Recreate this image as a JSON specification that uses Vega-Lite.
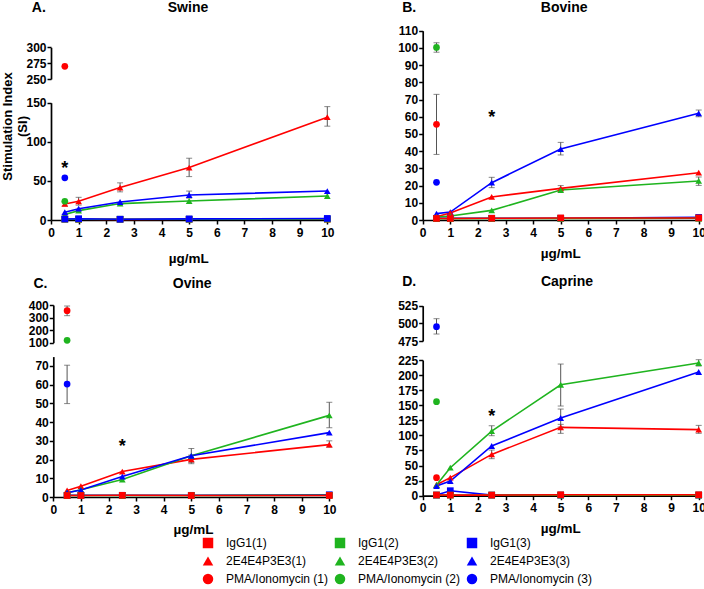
{
  "$schema": "https://vega.github.io/schema/vega-lite/v6.json",
  "width": 704,
  "height": 589,
  "padding": 0,
  "autosize": {"type": "none"},
  "background": "white",
  "config": {
    "view": {"stroke": null},
    "axis": {"grid": false, "labelFont": "Liberation Sans", "labelFontWeight": "bold", "labelFontSize": 12, "labelColor": "#000", "domainColor": "#000", "domainWidth": 1.7, "tickColor": "#000", "tickWidth": 1.5, "tickSize": 4, "labelPadding": 1, "labelFlush": false, "labelOverlap": false, "titleFont": "Liberation Sans", "titleFontWeight": "bold", "titleColor": "#000", "titleFontSize": 14},
    "axisX": {"labelPadding": 3},
    "legend": {"labelFont": "Liberation Sans", "labelFontSize": 12, "labelColor": "#000"},
    "tick": {"color": "#555", "orient": "horizontal", "size": 6, "thickness": 1},
    "rule": {"color": "#555", "strokeWidth": 1}
  },
  "datasets": {
    "pts": [
      {"p":"A","part":"low","s":"2E4E4P3E3(1)","x":0.5,"y":20.5,"lo":18,"hi":23},
      {"p":"A","part":"low","s":"2E4E4P3E3(1)","x":1,"y":23.9,"lo":19,"hi":29},
      {"p":"A","part":"low","s":"2E4E4P3E3(1)","x":2.5,"y":41.5,"lo":36,"hi":47.5},
      {"p":"A","part":"low","s":"2E4E4P3E3(1)","x":5,"y":67,"lo":55.5,"hi":79},
      {"p":"A","part":"low","s":"2E4E4P3E3(1)","x":10,"y":131.5,"lo":120,"hi":145},
      {"p":"A","part":"low","s":"2E4E4P3E3(2)","x":0.5,"y":7},
      {"p":"A","part":"low","s":"2E4E4P3E3(2)","x":1,"y":12},
      {"p":"A","part":"low","s":"2E4E4P3E3(2)","x":2.5,"y":21},
      {"p":"A","part":"low","s":"2E4E4P3E3(2)","x":5,"y":24.3},
      {"p":"A","part":"low","s":"2E4E4P3E3(2)","x":10,"y":30.7},
      {"p":"A","part":"low","s":"2E4E4P3E3(3)","x":0.5,"y":10},
      {"p":"A","part":"low","s":"2E4E4P3E3(3)","x":1,"y":14.5},
      {"p":"A","part":"low","s":"2E4E4P3E3(3)","x":2.5,"y":23},
      {"p":"A","part":"low","s":"2E4E4P3E3(3)","x":5,"y":32,"lo":28,"hi":37},
      {"p":"A","part":"low","s":"2E4E4P3E3(3)","x":10,"y":37},
      {"p":"A","part":"low","s":"IgG1(1)","x":0.5,"y":1},
      {"p":"A","part":"low","s":"IgG1(1)","x":1,"y":0.9},
      {"p":"A","part":"low","s":"IgG1(1)","x":2.5,"y":0.8},
      {"p":"A","part":"low","s":"IgG1(1)","x":5,"y":0.9},
      {"p":"A","part":"low","s":"IgG1(1)","x":10,"y":1},
      {"p":"A","part":"low","s":"IgG1(2)","x":0.5,"y":1.1},
      {"p":"A","part":"low","s":"IgG1(2)","x":1,"y":1},
      {"p":"A","part":"low","s":"IgG1(2)","x":2.5,"y":1},
      {"p":"A","part":"low","s":"IgG1(2)","x":5,"y":1},
      {"p":"A","part":"low","s":"IgG1(2)","x":10,"y":1.2},
      {"p":"A","part":"low","s":"IgG1(3)","x":0.5,"y":1.3},
      {"p":"A","part":"low","s":"IgG1(3)","x":1,"y":1.6},
      {"p":"A","part":"low","s":"IgG1(3)","x":2.5,"y":1},
      {"p":"A","part":"low","s":"IgG1(3)","x":5,"y":1.4},
      {"p":"A","part":"low","s":"IgG1(3)","x":10,"y":2},
      {"p":"A","part":"low","s":"PMA/Ionomycin (2)","x":0.5,"y":24},
      {"p":"A","part":"low","s":"PMA/Ionomycin (3)","x":0.5,"y":54},
      {"p":"A","part":"up","s":"PMA/Ionomycin (1)","x":0.5,"y":270},

      {"p":"B","part":"low","s":"2E4E4P3E3(3)","x":0.5,"y":3.7},
      {"p":"B","part":"low","s":"2E4E4P3E3(3)","x":1,"y":4.6},
      {"p":"B","part":"low","s":"2E4E4P3E3(3)","x":2.5,"y":21.7,"lo":18.8,"hi":24.8},
      {"p":"B","part":"low","s":"2E4E4P3E3(3)","x":5,"y":41.2,"lo":37.8,"hi":45.1},
      {"p":"B","part":"low","s":"2E4E4P3E3(3)","x":10,"y":62,"lo":60,"hi":63.9},
      {"p":"B","part":"low","s":"2E4E4P3E3(1)","x":0.5,"y":1.9},
      {"p":"B","part":"low","s":"2E4E4P3E3(1)","x":1,"y":4.1},
      {"p":"B","part":"low","s":"2E4E4P3E3(1)","x":2.5,"y":13.4},
      {"p":"B","part":"low","s":"2E4E4P3E3(1)","x":5,"y":18.4,"lo":17,"hi":20},
      {"p":"B","part":"low","s":"2E4E4P3E3(1)","x":10,"y":27.5},
      {"p":"B","part":"low","s":"2E4E4P3E3(2)","x":0.5,"y":1.7},
      {"p":"B","part":"low","s":"2E4E4P3E3(2)","x":1,"y":2.3},
      {"p":"B","part":"low","s":"2E4E4P3E3(2)","x":2.5,"y":5.6},
      {"p":"B","part":"low","s":"2E4E4P3E3(2)","x":5,"y":17.4},
      {"p":"B","part":"low","s":"2E4E4P3E3(2)","x":10,"y":22.7,"lo":20.1,"hi":25},
      {"p":"B","part":"low","s":"IgG1(3)","x":0.5,"y":1},
      {"p":"B","part":"low","s":"IgG1(3)","x":1,"y":1},
      {"p":"B","part":"low","s":"IgG1(3)","x":2.5,"y":1},
      {"p":"B","part":"low","s":"IgG1(3)","x":5,"y":1},
      {"p":"B","part":"low","s":"IgG1(3)","x":10,"y":1.5},
      {"p":"B","part":"low","s":"IgG1(2)","x":0.5,"y":0.8},
      {"p":"B","part":"low","s":"IgG1(2)","x":1,"y":0.8},
      {"p":"B","part":"low","s":"IgG1(2)","x":2.5,"y":0.9},
      {"p":"B","part":"low","s":"IgG1(2)","x":5,"y":0.9},
      {"p":"B","part":"low","s":"IgG1(2)","x":10,"y":1},
      {"p":"B","part":"low","s":"IgG1(1)","x":0.5,"y":0.9},
      {"p":"B","part":"low","s":"IgG1(1)","x":1,"y":0.9},
      {"p":"B","part":"low","s":"IgG1(1)","x":2.5,"y":1},
      {"p":"B","part":"low","s":"IgG1(1)","x":5,"y":1.2},
      {"p":"B","part":"low","s":"IgG1(1)","x":10,"y":1.2},
      {"p":"B","part":"low","s":"PMA/Ionomycin (1)","x":0.5,"y":55.6,"lo":38.1,"hi":73},
      {"p":"B","part":"low","s":"PMA/Ionomycin (2)","x":0.5,"y":100.3,"lo":97.5,"hi":103},
      {"p":"B","part":"low","s":"PMA/Ionomycin (3)","x":0.5,"y":21.9},

      {"p":"C","part":"low","s":"2E4E4P3E3(1)","x":0.5,"y":3.5},
      {"p":"C","part":"low","s":"2E4E4P3E3(1)","x":1,"y":5.8},
      {"p":"C","part":"low","s":"2E4E4P3E3(1)","x":2.5,"y":13.6},
      {"p":"C","part":"low","s":"2E4E4P3E3(1)","x":5,"y":20.1,"lo":17.8,"hi":22.4},
      {"p":"C","part":"low","s":"2E4E4P3E3(1)","x":10,"y":28,"lo":26.6,"hi":30},
      {"p":"C","part":"low","s":"2E4E4P3E3(2)","x":0.5,"y":2.3},
      {"p":"C","part":"low","s":"2E4E4P3E3(2)","x":1,"y":3.9},
      {"p":"C","part":"low","s":"2E4E4P3E3(2)","x":2.5,"y":9.3},
      {"p":"C","part":"low","s":"2E4E4P3E3(2)","x":5,"y":22,"lo":18.5,"hi":25.9},
      {"p":"C","part":"low","s":"2E4E4P3E3(2)","x":10,"y":43.6,"lo":37,"hi":50.6},
      {"p":"C","part":"low","s":"2E4E4P3E3(3)","x":0.5,"y":2.3},
      {"p":"C","part":"low","s":"2E4E4P3E3(3)","x":1,"y":3.7},
      {"p":"C","part":"low","s":"2E4E4P3E3(3)","x":2.5,"y":10.9},
      {"p":"C","part":"low","s":"2E4E4P3E3(3)","x":5,"y":22},
      {"p":"C","part":"low","s":"2E4E4P3E3(3)","x":10,"y":34.4},
      {"p":"C","part":"low","s":"IgG1(3)","x":0.5,"y":0.9},
      {"p":"C","part":"low","s":"IgG1(3)","x":1,"y":0.9},
      {"p":"C","part":"low","s":"IgG1(3)","x":2.5,"y":0.9},
      {"p":"C","part":"low","s":"IgG1(3)","x":5,"y":0.9},
      {"p":"C","part":"low","s":"IgG1(3)","x":10,"y":1.2},
      {"p":"C","part":"low","s":"IgG1(2)","x":0.5,"y":0.8},
      {"p":"C","part":"low","s":"IgG1(2)","x":1,"y":0.8},
      {"p":"C","part":"low","s":"IgG1(2)","x":2.5,"y":0.8},
      {"p":"C","part":"low","s":"IgG1(2)","x":5,"y":0.8},
      {"p":"C","part":"low","s":"IgG1(2)","x":10,"y":0.9},
      {"p":"C","part":"low","s":"IgG1(1)","x":0.5,"y":0.8},
      {"p":"C","part":"low","s":"IgG1(1)","x":1,"y":0.8},
      {"p":"C","part":"low","s":"IgG1(1)","x":2.5,"y":0.9},
      {"p":"C","part":"low","s":"IgG1(1)","x":5,"y":0.8},
      {"p":"C","part":"low","s":"IgG1(1)","x":10,"y":0.8},
      {"p":"C","part":"low","s":"PMA/Ionomycin (3)","x":0.5,"y":60.3,"lo":49.9,"hi":70.4},
      {"p":"C","part":"up","s":"PMA/Ionomycin (1)","x":0.5,"y":355,"lo":315,"hi":392},
      {"p":"C","part":"up","s":"PMA/Ionomycin (2)","x":0.5,"y":119},

      {"p":"D","part":"low","s":"2E4E4P3E3(1)","x":0.5,"y":18.2},
      {"p":"D","part":"low","s":"2E4E4P3E3(1)","x":1,"y":29.9},
      {"p":"D","part":"low","s":"2E4E4P3E3(1)","x":2.5,"y":68.5,"lo":61.4,"hi":75.7},
      {"p":"D","part":"low","s":"2E4E4P3E3(1)","x":5,"y":113.3,"lo":103.4,"hi":118.3},
      {"p":"D","part":"low","s":"2E4E4P3E3(1)","x":10,"y":109.5,"lo":103.4,"hi":116.6},
      {"p":"D","part":"low","s":"2E4E4P3E3(2)","x":0.5,"y":17.7},
      {"p":"D","part":"low","s":"2E4E4P3E3(2)","x":1,"y":46.4},
      {"p":"D","part":"low","s":"2E4E4P3E3(2)","x":2.5,"y":107.2,"lo":99.5,"hi":116},
      {"p":"D","part":"low","s":"2E4E4P3E3(2)","x":5,"y":184,"lo":148.7,"hi":218.3},
      {"p":"D","part":"low","s":"2E4E4P3E3(2)","x":10,"y":220,"lo":215,"hi":225.5},
      {"p":"D","part":"low","s":"2E4E4P3E3(3)","x":0.5,"y":16},
      {"p":"D","part":"low","s":"2E4E4P3E3(3)","x":1,"y":24.3},
      {"p":"D","part":"low","s":"2E4E4P3E3(3)","x":2.5,"y":82.4},
      {"p":"D","part":"low","s":"2E4E4P3E3(3)","x":5,"y":128.8,"lo":114,"hi":143.7},
      {"p":"D","part":"low","s":"2E4E4P3E3(3)","x":10,"y":205.1},
      {"p":"D","part":"low","s":"IgG1(3)","x":0.5,"y":1},
      {"p":"D","part":"low","s":"IgG1(3)","x":1,"y":8.3},
      {"p":"D","part":"low","s":"IgG1(3)","x":2.5,"y":1},
      {"p":"D","part":"low","s":"IgG1(3)","x":5,"y":1},
      {"p":"D","part":"low","s":"IgG1(3)","x":10,"y":1},
      {"p":"D","part":"low","s":"IgG1(2)","x":0.5,"y":1},
      {"p":"D","part":"low","s":"IgG1(2)","x":1,"y":1},
      {"p":"D","part":"low","s":"IgG1(2)","x":2.5,"y":1},
      {"p":"D","part":"low","s":"IgG1(2)","x":5,"y":1},
      {"p":"D","part":"low","s":"IgG1(2)","x":10,"y":1},
      {"p":"D","part":"low","s":"IgG1(1)","x":0.5,"y":1.2},
      {"p":"D","part":"low","s":"IgG1(1)","x":1,"y":1},
      {"p":"D","part":"low","s":"IgG1(1)","x":2.5,"y":1},
      {"p":"D","part":"low","s":"IgG1(1)","x":5,"y":1.5},
      {"p":"D","part":"low","s":"IgG1(1)","x":10,"y":1.5},
      {"p":"D","part":"low","s":"PMA/Ionomycin (1)","x":0.5,"y":29.9},
      {"p":"D","part":"low","s":"PMA/Ionomycin (2)","x":0.5,"y":155.9},
      {"p":"D","part":"up","s":"PMA/Ionomycin (3)","x":0.5,"y":495.3,"lo":484.9,"hi":506.6}
    ],
    "notes": [
      {"p":"A","x":0.5,"y":72,"t":"*"},
      {"p":"B","x":2.5,"y":62,"t":"*"},
      {"p":"C","x":2.5,"y":29.4,"t":"*"},
      {"p":"D","x":2.5,"y":138.7,"t":"*"}
    ]
  },
  "resolve": {"scale": {"x": "independent", "y": "independent"}, "axis": {"x": "independent", "y": "independent"}},
  "layer": [
    {
      "data": {"name": "pts"},
      "transform": [{"filter": "datum.p == 'A' && datum.part == 'low'"}],
      "encoding": {
        "x": {"field": "x", "type": "quantitative", "scale": {"domain": [0, 10], "range": [51, 327.3], "nice": false, "zero": false}, "axis": {"orient": "bottom", "offset": -369, "values": [0,1,2,3,4,5,6,7,8,9,10], "title": "µg/mL", "titleX": 188.3, "titleY": 38, "titleAlign": "center", "titleBaseline": "middle", "titleFontSize": 13.5}},
        "y": {"field": "y", "type": "quantitative", "scale": {"domain": [0, 150], "range": [220, 102.7], "nice": false, "zero": false}, "axis": {"orient": "left", "offset": -51, "values": [0, 50, 100, 150], "title": ["Stimulation Index", "(SI)"], "titleX": -44, "titleY": 126, "titleAngle": 270, "titleAlign": "center", "titleBaseline": "middle", "titleFontSize": 13, "titleLineHeight": 15}}
      },
      "layer": [
        {"transform": [{"filter": "indexof(datum.s, 'PMA') < 0"}], "mark": {"type": "line", "strokeWidth": 1.6},
         "encoding": {"stroke": {"field": "s", "type": "nominal", "legend": null,
           "scale": {"domain": ["IgG1(1)", "IgG1(2)", "IgG1(3)", "2E4E4P3E3(1)", "2E4E4P3E3(2)", "2E4E4P3E3(3)"], "range": ["#ff0000", "#1fb41f", "#0000ff", "#ff0000", "#1fb41f", "#0000ff"]}}}},
        {"transform": [{"filter": {"field": "lo", "valid": true}}], "layer": [
          {"mark": "rule", "encoding": {"y": {"field": "lo", "type": "quantitative"}, "y2": {"field": "hi"}}},
          {"mark": "tick", "encoding": {"y": {"field": "lo", "type": "quantitative"}}},
          {"mark": "tick", "encoding": {"y": {"field": "hi", "type": "quantitative"}}}
        ]},
        {"mark": {"type": "point", "filled": true, "size": 45, "opacity": 1},
         "encoding": {
           "color": {"field": "s", "type": "nominal", "legend": {"title": null, "orient": "none", "legendX": 202, "legendY": 537, "columns": 3, "direction": "horizontal", "columnPadding": 5, "rowPadding": 6, "symbolSize": 110, "labelOffset": 12},
             "scale": {"domain": ["IgG1(1)", "IgG1(2)", "IgG1(3)", "2E4E4P3E3(1)", "2E4E4P3E3(2)", "2E4E4P3E3(3)", "PMA/Ionomycin (1)", "PMA/Ionomycin (2)", "PMA/Ionomycin (3)"], "range": ["#ff0000", "#1fb41f", "#0000ff", "#ff0000", "#1fb41f", "#0000ff", "#ff0000", "#1fb41f", "#0000ff"]}},
           "shape": {"field": "s", "type": "nominal", "legend": {"title": null, "orient": "none", "legendX": 202, "legendY": 537, "columns": 3, "direction": "horizontal", "columnPadding": 5, "rowPadding": 6, "symbolSize": 110, "labelOffset": 12},
             "scale": {"domain": ["IgG1(1)", "IgG1(2)", "IgG1(3)", "2E4E4P3E3(1)", "2E4E4P3E3(2)", "2E4E4P3E3(3)", "PMA/Ionomycin (1)", "PMA/Ionomycin (2)", "PMA/Ionomycin (3)"], "range": ["square", "square", "square", "triangle-up", "triangle-up", "triangle-up", "circle", "circle", "circle"]}}
         }}
      ]
    },
    {
      "data": {"name": "pts"},
      "transform": [{"filter": "datum.p == 'A' && datum.part == 'up'"}],
      "encoding": {
        "x": {"field": "x", "type": "quantitative", "scale": {"domain": [0, 10], "range": [51, 327.3], "nice": false, "zero": false}, "axis": null},
        "y": {"field": "y", "type": "quantitative", "scale": {"domain": [250, 300], "range": [79, 47.3], "nice": false, "zero": false}, "axis": {"orient": "left", "offset": -51, "values": [250, 275, 300], "title": null}}
      },
      "layer": [
        {"mark": {"type": "point", "filled": true, "size": 45, "opacity": 1},
         "encoding": {"color": {"field": "s", "type": "nominal", "legend": {"title": null}}, "shape": {"field": "s", "type": "nominal", "legend": {"title": null}}}}
      ]
    },
    {
      "data": {"name": "notes"},
      "transform": [{"filter": "datum.p == 'A'"}],
      "mark": {"type": "text", "font": "Liberation Sans", "fontSize": 18, "fontWeight": "bold", "baseline": "middle", "dy": 5},
      "encoding": {
        "x": {"field": "x", "type": "quantitative", "scale": {"domain": [0, 10], "range": [51, 327.3], "nice": false, "zero": false}, "axis": {"orient": "top", "offset": 0, "domain": false, "ticks": false, "labels": false, "title": "Swine", "titleX": 187.5, "titleY": 7, "titleAlign": "center", "titleBaseline": "middle"}},
        "y": {"field": "y", "type": "quantitative", "scale": {"domain": [0, 150], "range": [220, 102.7], "nice": false, "zero": false}, "axis": {"orient": "left", "offset": 0, "domain": false, "ticks": false, "labels": false, "title": "A.", "titleAngle": 0, "titleX": 38.3, "titleY": 7, "titleAlign": "center", "titleBaseline": "middle"}},
        "text": {"field": "t"}
      }
    },
    {
      "data": {"name": "pts"},
      "transform": [{"filter": "datum.p == 'B'"}],
      "encoding": {
        "x": {"field": "x", "type": "quantitative", "scale": {"domain": [0, 10], "range": [422.7, 698.7], "nice": false, "zero": false}, "axis": {"orient": "bottom", "offset": -369, "values": [0,1,2,3,4,5,6,7,8,9,10], "title": "µg/mL", "titleX": 560.3, "titleY": 33.3, "titleAlign": "center", "titleBaseline": "middle", "titleFontSize": 13.5}},
        "y": {"field": "y", "type": "quantitative", "scale": {"domain": [0, 110], "range": [220, 30.7], "nice": false, "zero": false}, "axis": {"orient": "left", "offset": -422.7, "values": [0,10,20,30,40,50,60,70,80,90,100,110], "title": null}}
      },
      "layer": [
        {"transform": [{"filter": "indexof(datum.s, 'PMA') < 0"}], "mark": {"type": "line", "strokeWidth": 1.6},
         "encoding": {"stroke": {"field": "s", "type": "nominal", "legend": null}}},
        {"transform": [{"filter": {"field": "lo", "valid": true}}], "layer": [
          {"mark": "rule", "encoding": {"y": {"field": "lo", "type": "quantitative"}, "y2": {"field": "hi"}}},
          {"mark": "tick", "encoding": {"y": {"field": "lo", "type": "quantitative"}}},
          {"mark": "tick", "encoding": {"y": {"field": "hi", "type": "quantitative"}}}
        ]},
        {"mark": {"type": "point", "filled": true, "size": 45, "opacity": 1},
         "encoding": {"color": {"field": "s", "type": "nominal", "legend": {"title": null}}, "shape": {"field": "s", "type": "nominal", "legend": {"title": null}}}}
      ]
    },
    {
      "data": {"name": "notes"},
      "transform": [{"filter": "datum.p == 'B'"}],
      "mark": {"type": "text", "font": "Liberation Sans", "fontSize": 18, "fontWeight": "bold", "baseline": "middle", "dy": 5},
      "encoding": {
        "x": {"field": "x", "type": "quantitative", "scale": {"domain": [0, 10], "range": [422.7, 698.7], "nice": false, "zero": false}, "axis": {"orient": "top", "offset": 0, "domain": false, "ticks": false, "labels": false, "title": "Bovine", "titleX": 563.7, "titleY": 7, "titleAlign": "center", "titleBaseline": "middle"}},
        "y": {"field": "y", "type": "quantitative", "scale": {"domain": [0, 110], "range": [220, 30.7], "nice": false, "zero": false}, "axis": {"orient": "left", "offset": 0, "domain": false, "ticks": false, "labels": false, "title": "B.", "titleAngle": 0, "titleX": 408.7, "titleY": 7, "titleAlign": "center", "titleBaseline": "middle"}},
        "text": {"field": "t"}
      }
    },
    {
      "data": {"name": "pts"},
      "transform": [{"filter": "datum.p == 'C' && datum.part == 'low'"}],
      "encoding": {
        "x": {"field": "x", "type": "quantitative", "scale": {"domain": [0, 10], "range": [53.3, 329.3], "nice": false, "zero": false}, "axis": {"orient": "bottom", "offset": -92, "values": [0,1,2,3,4,5,6,7,8,9,10], "title": "µg/mL", "titleX": 193, "titleY": 32.3, "titleAlign": "center", "titleBaseline": "middle", "titleFontSize": 13.5}},
        "y": {"field": "y", "type": "quantitative", "scale": {"domain": [0, 75], "range": [497, 356.6], "nice": false, "zero": false}, "axis": {"orient": "left", "offset": -53.3, "values": [0,10,20,30,40,50,60,70], "title": null}}
      },
      "layer": [
        {"transform": [{"filter": "indexof(datum.s, 'PMA') < 0"}], "mark": {"type": "line", "strokeWidth": 1.6},
         "encoding": {"stroke": {"field": "s", "type": "nominal", "legend": null}}},
        {"transform": [{"filter": {"field": "lo", "valid": true}}], "layer": [
          {"mark": "rule", "encoding": {"y": {"field": "lo", "type": "quantitative"}, "y2": {"field": "hi"}}},
          {"mark": "tick", "encoding": {"y": {"field": "lo", "type": "quantitative"}}},
          {"mark": "tick", "encoding": {"y": {"field": "hi", "type": "quantitative"}}}
        ]},
        {"mark": {"type": "point", "filled": true, "size": 45, "opacity": 1},
         "encoding": {"color": {"field": "s", "type": "nominal", "legend": {"title": null}}, "shape": {"field": "s", "type": "nominal", "legend": {"title": null}}}}
      ]
    },
    {
      "data": {"name": "pts"},
      "transform": [{"filter": "datum.p == 'C' && datum.part == 'up'"}],
      "encoding": {
        "x": {"field": "x", "type": "quantitative", "scale": {"domain": [0, 10], "range": [53.3, 329.3], "nice": false, "zero": false}, "axis": null},
        "y": {"field": "y", "type": "quantitative", "scale": {"domain": [100, 400], "range": [342.7, 305], "nice": false, "zero": false}, "axis": {"orient": "left", "offset": -53.3, "values": [100, 200, 300, 400], "title": null}}
      },
      "layer": [
        {"transform": [{"filter": {"field": "lo", "valid": true}}], "layer": [
          {"mark": "rule", "encoding": {"y": {"field": "lo", "type": "quantitative"}, "y2": {"field": "hi"}}},
          {"mark": "tick", "encoding": {"y": {"field": "lo", "type": "quantitative"}}},
          {"mark": "tick", "encoding": {"y": {"field": "hi", "type": "quantitative"}}}
        ]},
        {"mark": {"type": "point", "filled": true, "size": 45, "opacity": 1},
         "encoding": {"color": {"field": "s", "type": "nominal", "legend": {"title": null}}, "shape": {"field": "s", "type": "nominal", "legend": {"title": null}}}}
      ]
    },
    {
      "data": {"name": "notes"},
      "transform": [{"filter": "datum.p == 'C'"}],
      "mark": {"type": "text", "font": "Liberation Sans", "fontSize": 18, "fontWeight": "bold", "baseline": "middle", "dy": 5},
      "encoding": {
        "x": {"field": "x", "type": "quantitative", "scale": {"domain": [0, 10], "range": [53.3, 329.3], "nice": false, "zero": false}, "axis": {"orient": "top", "offset": 0, "domain": false, "ticks": false, "labels": false, "title": "Ovine", "titleX": 191.7, "titleY": 283.3, "titleAlign": "center", "titleBaseline": "middle"}},
        "y": {"field": "y", "type": "quantitative", "scale": {"domain": [0, 75], "range": [497, 356.6], "nice": false, "zero": false}, "axis": {"orient": "left", "offset": 0, "domain": false, "ticks": false, "labels": false, "title": "C.", "titleAngle": 0, "titleX": 40, "titleY": 283.3, "titleAlign": "center", "titleBaseline": "middle"}},
        "text": {"field": "t"}
      }
    },
    {
      "data": {"name": "pts"},
      "transform": [{"filter": "datum.p == 'D' && datum.part == 'low'"}],
      "encoding": {
        "x": {"field": "x", "type": "quantitative", "scale": {"domain": [0, 10], "range": [422.7, 698.7], "nice": false, "zero": false}, "axis": {"orient": "bottom", "offset": -93.3, "values": [0,1,2,3,4,5,6,7,8,9,10], "title": "µg/mL", "titleX": 560.3, "titleY": 32.6, "titleAlign": "center", "titleBaseline": "middle", "titleFontSize": 13.5}},
        "y": {"field": "y", "type": "quantitative", "scale": {"domain": [0, 225], "range": [495.7, 360], "nice": false, "zero": false}, "axis": {"orient": "left", "offset": -422.7, "values": [0,25,50,75,100,125,150,175,200,225], "title": null}}
      },
      "layer": [
        {"transform": [{"filter": "indexof(datum.s, 'PMA') < 0"}], "mark": {"type": "line", "strokeWidth": 1.6},
         "encoding": {"stroke": {"field": "s", "type": "nominal", "legend": null}}},
        {"transform": [{"filter": {"field": "lo", "valid": true}}], "layer": [
          {"mark": "rule", "encoding": {"y": {"field": "lo", "type": "quantitative"}, "y2": {"field": "hi"}}},
          {"mark": "tick", "encoding": {"y": {"field": "lo", "type": "quantitative"}}},
          {"mark": "tick", "encoding": {"y": {"field": "hi", "type": "quantitative"}}}
        ]},
        {"mark": {"type": "point", "filled": true, "size": 45, "opacity": 1},
         "encoding": {"color": {"field": "s", "type": "nominal", "legend": {"title": null}}, "shape": {"field": "s", "type": "nominal", "legend": {"title": null}}}}
      ]
    },
    {
      "data": {"name": "pts"},
      "transform": [{"filter": "datum.p == 'D' && datum.part == 'up'"}],
      "encoding": {
        "x": {"field": "x", "type": "quantitative", "scale": {"domain": [0, 10], "range": [422.7, 698.7], "nice": false, "zero": false}, "axis": null},
        "y": {"field": "y", "type": "quantitative", "scale": {"domain": [475, 525], "range": [341, 305.7], "nice": false, "zero": false}, "axis": {"orient": "left", "offset": -422.7, "values": [475, 500, 525], "title": null}}
      },
      "layer": [
        {"transform": [{"filter": {"field": "lo", "valid": true}}], "layer": [
          {"mark": "rule", "encoding": {"y": {"field": "lo", "type": "quantitative"}, "y2": {"field": "hi"}}},
          {"mark": "tick", "encoding": {"y": {"field": "lo", "type": "quantitative"}}},
          {"mark": "tick", "encoding": {"y": {"field": "hi", "type": "quantitative"}}}
        ]},
        {"mark": {"type": "point", "filled": true, "size": 45, "opacity": 1},
         "encoding": {"color": {"field": "s", "type": "nominal", "legend": {"title": null}}, "shape": {"field": "s", "type": "nominal", "legend": {"title": null}}}}
      ]
    },
    {
      "data": {"name": "notes"},
      "transform": [{"filter": "datum.p == 'D'"}],
      "mark": {"type": "text", "font": "Liberation Sans", "fontSize": 18, "fontWeight": "bold", "baseline": "middle", "dy": 5},
      "encoding": {
        "x": {"field": "x", "type": "quantitative", "scale": {"domain": [0, 10], "range": [422.7, 698.7], "nice": false, "zero": false}, "axis": {"orient": "top", "offset": 0, "domain": false, "ticks": false, "labels": false, "title": "Caprine", "titleX": 566.5, "titleY": 281.7, "titleAlign": "center", "titleBaseline": "middle"}},
        "y": {"field": "y", "type": "quantitative", "scale": {"domain": [0, 225], "range": [495.7, 360], "nice": false, "zero": false}, "axis": {"orient": "left", "offset": 0, "domain": false, "ticks": false, "labels": false, "title": "D.", "titleAngle": 0, "titleX": 408.7, "titleY": 281.7, "titleAlign": "center", "titleBaseline": "middle"}},
        "text": {"field": "t"}
      }
    }
  ]
}
